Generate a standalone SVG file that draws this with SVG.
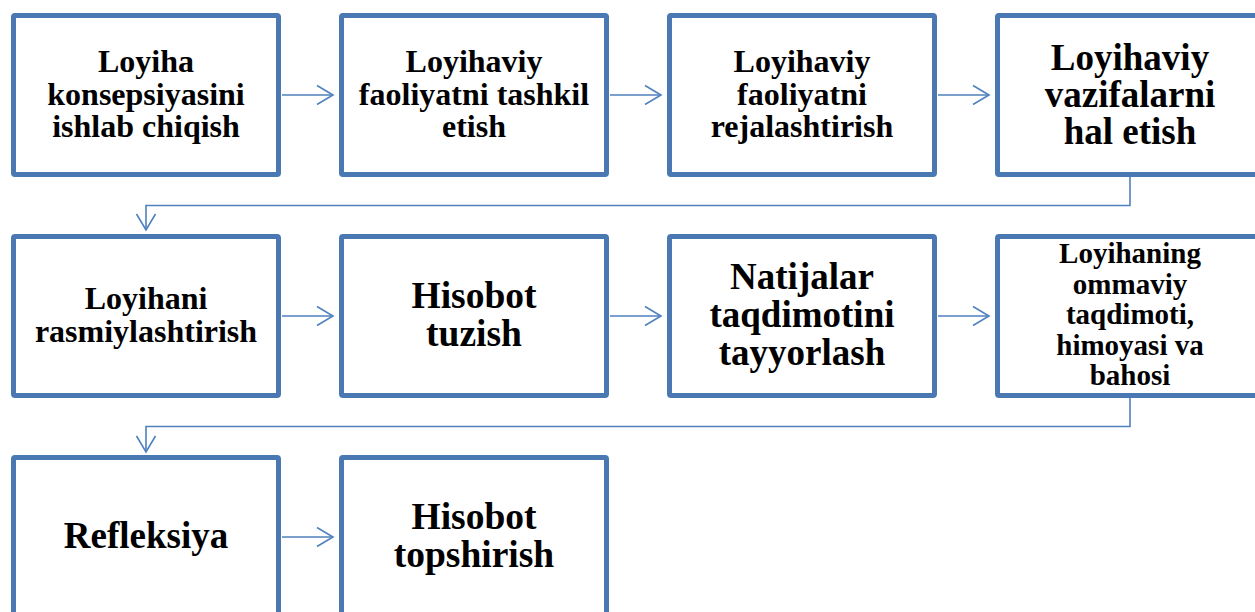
<svg xmlns="http://www.w3.org/2000/svg" width="1255" height="612" viewBox="0 0 1255 612">
<style>
.box{fill:#fff;stroke:#4A78B2;stroke-width:5;}
.t{font-family:"Liberation Serif","Times New Roman",serif;font-weight:bold;fill:#000;text-anchor:middle;}
.c{fill:none;stroke:#4F81BD;stroke-width:1.6;}
</style>
<defs>
<marker id="ah" markerUnits="userSpaceOnUse" markerWidth="20" markerHeight="24" refX="17" refY="10" orient="auto" overflow="visible">
<path d="M1,0.5 L17,10 L1,19.5" fill="none" stroke="#4F81BD" stroke-width="1.6"/>
</marker>
</defs>
<rect width="1255" height="612" fill="#fff"/>
<g id="connectors">
<line class="c" x1="282" y1="95" x2="333" y2="95" marker-end="url(#ah)"/>
<line class="c" x1="610" y1="95" x2="661" y2="95" marker-end="url(#ah)"/>
<line class="c" x1="938" y1="95" x2="989" y2="95" marker-end="url(#ah)"/>
<path class="c" d="M1130,177 V205.5 H146 V230" marker-end="url(#ah)"/>
<line class="c" x1="282" y1="316" x2="333" y2="316" marker-end="url(#ah)"/>
<line class="c" x1="610" y1="316" x2="661" y2="316" marker-end="url(#ah)"/>
<line class="c" x1="938" y1="316" x2="989" y2="316" marker-end="url(#ah)"/>
<path class="c" d="M1130,398 V426.5 H146 V452" marker-end="url(#ah)"/>
<line class="c" x1="282" y1="537" x2="333" y2="537" marker-end="url(#ah)"/>
</g>
<g id="n1"><rect class="box" x="13.5" y="15.5" width="265" height="159" rx="1.5"/>
<text class="t" font-size="32"><tspan x="146" y="72">Loyiha</tspan><tspan x="146" y="104.5">konsepsiyasini</tspan><tspan x="146" y="137">ishlab chiqish</tspan></text></g>
<g id="n2"><rect class="box" x="341.5" y="15.5" width="265" height="159" rx="1.5"/>
<text class="t" font-size="32"><tspan x="474" y="72">Loyihaviy</tspan><tspan x="474" y="104.5">faoliyatni tashkil</tspan><tspan x="474" y="137">etish</tspan></text></g>
<g id="n3"><rect class="box" x="669.5" y="15.5" width="265" height="159" rx="1.5"/>
<text class="t" font-size="32"><tspan x="802" y="72">Loyihaviy</tspan><tspan x="802" y="104.5">faoliyatni</tspan><tspan x="802" y="137">rejalashtirish</tspan></text></g>
<g id="n4"><rect class="box" x="997.5" y="15.5" width="265" height="159" rx="1.5"/>
<text class="t" font-size="37"><tspan x="1130" y="70">Loyihaviy</tspan><tspan x="1130" y="107">vazifalarni</tspan><tspan x="1130" y="144">hal etish</tspan></text></g>
<g id="n5"><rect class="box" x="13.5" y="236.5" width="265" height="159" rx="1.5"/>
<text class="t" font-size="32"><tspan x="146" y="309">Loyihani</tspan><tspan x="146" y="342">rasmiylashtirish</tspan></text></g>
<g id="n6"><rect class="box" x="341.5" y="236.5" width="265" height="159" rx="1.5"/>
<text class="t" font-size="37.5"><tspan x="474" y="308">Hisobot</tspan><tspan x="474" y="346">tuzish</tspan></text></g>
<g id="n7"><rect class="box" x="669.5" y="236.5" width="265" height="159" rx="1.5"/>
<text class="t" font-size="37"><tspan x="802" y="289">Natijalar</tspan><tspan x="802" y="327">taqdimotini</tspan><tspan x="802" y="365">tayyorlash</tspan></text></g>
<g id="n8"><rect class="box" x="997.5" y="236.5" width="265" height="159" rx="1.5"/>
<text class="t" font-size="29"><tspan x="1130" y="263">Loyihaning</tspan><tspan x="1130" y="293.5">ommaviy</tspan><tspan x="1130" y="324">taqdimoti,</tspan><tspan x="1130" y="354.5">himoyasi va</tspan><tspan x="1130" y="385">bahosi</tspan></text></g>
<g id="n9"><rect class="box" x="13.5" y="457.5" width="265" height="159" rx="1.5"/>
<text class="t" font-size="37"><tspan x="146" y="548">Refleksiya</tspan></text></g>
<g id="n10"><rect class="box" x="341.5" y="457.5" width="265" height="159" rx="1.5"/>
<text class="t" font-size="37.5"><tspan x="474" y="529">Hisobot</tspan><tspan x="474" y="567">topshirish</tspan></text></g>
</svg>
